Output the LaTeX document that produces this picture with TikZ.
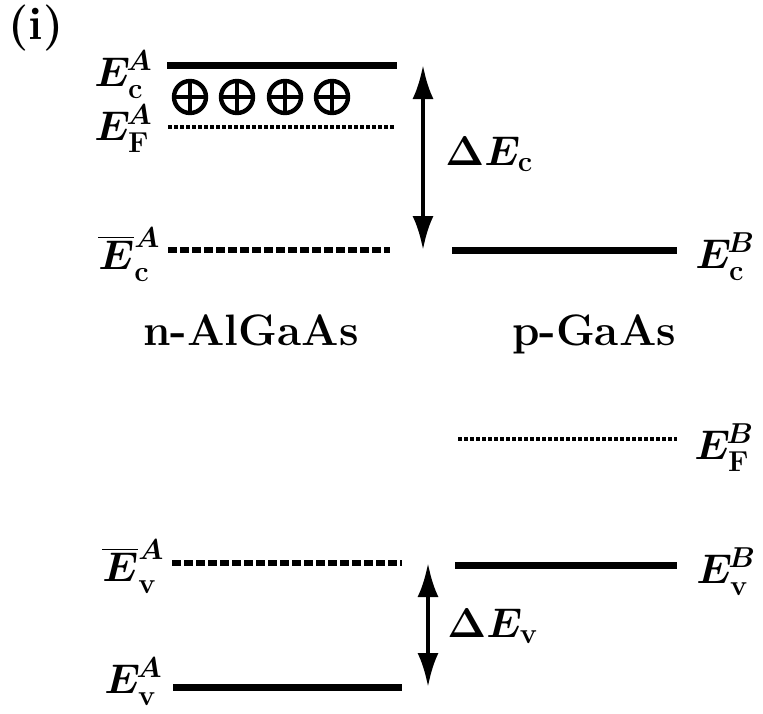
\documentclass[tikz,border=0pt]{standalone}
\usetikzlibrary{arrows.meta}
\newcommand{\sps}[1]{\mkern-2mu #1}
\begin{document}
\begin{tikzpicture}[x=0.5pt,y=-0.5pt,
  lbl/.style={inner sep=0pt,anchor=base west,font=\fontsize{22}{25}\selectfont\boldmath},
  txt/.style={inner sep=0pt,anchor=base,font=\fontsize{22}{24}\selectfont\bfseries},
  band/.style={line width=3.5pt},
  bandd/.style={line width=3pt,dash pattern=on 4.5pt off 1.5pt},
  fermi/.style={line width=1.8pt,dash pattern=on 2pt off 1pt},
  dbl/.style={line width=2.2pt,{Latex[length=17pt,width=10.5pt]}-{Latex[length=17pt,width=10.5pt]}},
  ion/.style={line width=2.2pt}]
\useasboundingbox (0,0) rectangle (763,713);

% panel label
\node[inner sep=0pt,font=\fontsize{23}{26}\selectfont\bfseries] (lab) at (36,28) {(i)};

% n-AlGaAs levels
\draw[band]  (167,65) -- (397,65);
\draw[fermi] (168,127) -- (395,127);
\draw[bandd] (168,250) -- (390,250);
\draw[bandd] (172,563) -- (402,563);
\draw[band]  (173,687) -- (402,687);

% p-GaAs levels
\draw[band]  (452,250) -- (677,250);
\draw[fermi] (458,439) -- (677,439);
\draw[band]  (455,565) -- (677,565);

% ionised donors
\foreach \x in {190,237,285,332}{
  \draw[ion] (\x,97) circle[radius=16];
  \draw[ion] (\x-16,97) -- (\x+16,97) (\x,81) -- (\x,113);
}

% offsets
\coordinate (c1) at (423,65);
\coordinate (c2) at (423,250);
\coordinate (v1) at (428,563);
\coordinate (v2) at (428,687);
\draw[dbl] (c1) -- (c2);
\draw[dbl] (v1) -- (v2);
\node[lbl] (dEc) at (445,165) {$\Delta E_{\mathbf c}$};
\node[lbl] (dEv) at (447,637) {$\Delta E_{\mathbf v}$};

% level labels
\node[lbl] (EcA)  at (94,86)   {$E_{\mathbf c}^{\sps{A}}$};
\node[lbl] (EFA)  at (94,140)  {$E_{\mathbf F}^{\sps{A}}$};
\node[lbl] (EcbA) at (98,269)  {$\overline{E}_{\mathbf c}^{A}$};
\node[lbl] (EvbA) at (102,581) {$\overline{E}_{\mathbf v}^{A}$};
\node[lbl] (EvA)  at (104,693) {$E_{\mathbf v}^{\sps{A}}$};
\node[lbl] (EcB)  at (695,268) {$E_{\mathbf c}^{\sps{B}}$};
\node[lbl] (EFB)  at (694,459) {$E_{\mathbf F}^{\sps{B}}$};
\node[lbl] (EvB)  at (696,583) {$E_{\mathbf v}^{\sps{B}}$};

% material names
\node[txt] (nA) at (251,345) {n-AlGaAs};
\node[txt] (pG) at (594,345) {p-GaAs};
\end{tikzpicture}
\end{document}
